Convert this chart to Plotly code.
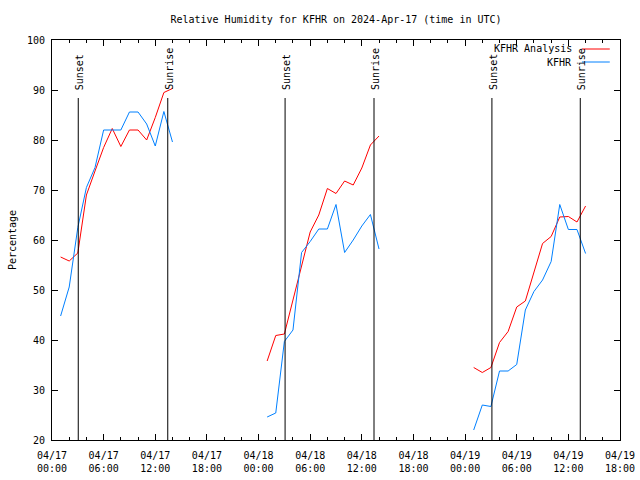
import pandas as pd
import plotly.graph_objects as go

# ---- data ----
seg_starts = ["2024-04-17 01:00", "2024-04-18 01:00", "2024-04-19 01:00"]
seg_len = 14

analysis_rh = [
    [56.6, 55.8, 57.4, 69.0, 73.8, 78.5, 82.3, 78.7, 82.0, 82.0, 80.0, 84.5, 89.5, 90.3],
    [35.8, 40.9, 41.2, 48.0, 54.5, 61.6, 65.0, 70.3, 69.3, 71.8, 71.0, 74.4, 79.0, 80.8],
    [34.5, 33.5, 34.5, 39.5, 41.7, 46.6, 47.8, 53.5, 59.3, 60.7, 64.6, 64.7, 63.6, 66.8],
]
obs_rh = [
    [44.8, 50.6, 62.5, 70.5, 74.5, 82.0, 82.0, 82.0, 85.6, 85.6, 83.2, 78.8, 85.7, 79.6],
    [24.6, 25.4, 39.7, 42.0, 57.5, 59.7, 62.2, 62.2, 67.1, 57.5, 60.0, 62.8, 65.1, 58.2],
    [22.0, 27.0, 26.7, 33.8, 33.8, 35.1, 46.0, 49.7, 52.0, 55.7, 67.1, 62.1, 62.1, 57.3],
]
sun_events = [
    ("2024-04-17 03:03", "Sunset"), ("2024-04-17 13:27", "Sunrise"),
    ("2024-04-18 03:05", "Sunset"), ("2024-04-18 13:25", "Sunrise"),
    ("2024-04-19 03:07", "Sunset"), ("2024-04-19 13:23", "Sunrise"),
]
tick_times = pd.date_range("2024-04-17 00:00", "2024-04-19 18:00", freq="6h")
tick_labels = [t.strftime("%m/%d<br>%H:%M") for t in tick_times]

# ---- build series with gaps ----
def build(series):
    xs, ys = [], []
    for start, vals in zip(seg_starts, series):
        times = pd.date_range(start, periods=seg_len, freq="1h")
        xs += list(times) + [None]
        ys += list(vals) + [None]
    return xs, ys

FONT = "DejaVu Sans Mono"
fig = go.Figure()
ax, ay = build(analysis_rh)
ox, oy = build(obs_rh)
fig.add_trace(go.Scatter(x=ax, y=ay, mode="lines", name="KFHR Analysis",
                         line=dict(color="#ff0000", width=1), connectgaps=False))
fig.add_trace(go.Scatter(x=ox, y=oy, mode="lines", name="KFHR",
                         line=dict(color="#0080ff", width=1), connectgaps=False))

for t, label in sun_events:
    fig.add_shape(type="line", xref="x", yref="y", x0=t, x1=t, y0=20, y1=88.4,
                  line=dict(color="black", width=1))
    fig.add_annotation(x=t, y=89.6, xref="x", yref="y", text=label, textangle=-90,
                       showarrow=False, xanchor="center", yanchor="bottom", xshift=1,
                       font=dict(family=FONT, size=10, color="black"))

# manual legend (gnuplot style)
legend_items = [("KFHR Analysis", "#ff0000", 0.9775), ("KFHR", "#0080ff", 0.945)]
for name, color, yy in legend_items:
    fig.add_annotation(x=0.919, y=yy, xref="paper", yref="paper", text=name,
                       showarrow=False, xanchor="right", yanchor="middle",
                       font=dict(family=FONT, size=10, color="black"))
    fig.add_shape(type="line", xref="paper", yref="paper", x0=0.933, x1=0.982,
                  y0=yy, y1=yy, line=dict(color=color, width=1))

fig.update_layout(
    width=640, height=480,
    margin=dict(l=52, r=20, t=40, b=40, autoexpand=False),
    paper_bgcolor="white", plot_bgcolor="white",
    showlegend=False,
    font=dict(family=FONT, size=10, color="black"),
    title=dict(text="Relative Humidity for KFHR on 2024-Apr-17 (time in UTC)",
               x=0.525, xanchor="center", xref="container",
               y=1 - 19 / 480, yanchor="middle", yref="container",
               font=dict(family=FONT, size=10, color="black")),
)
fig.update_xaxes(
    type="date", range=["2024-04-17 00:00", "2024-04-19 18:00"],
    tickmode="array", tickvals=list(tick_times), ticktext=tick_labels,
    ticks="inside", ticklen=6, tickcolor="black", ticklabelstandoff=6,
    minor=dict(ticks="inside", ticklen=3, dtick=2 * 3600 * 1000,
               tick0="2024-04-17 00:00", tickcolor="black", showgrid=False),
    showline=True, linecolor="black", linewidth=1, mirror="ticks",
    showgrid=False, zeroline=False, automargin=False,
    tickfont=dict(family=FONT, size=10, color="black"),
)
fig.update_yaxes(
    range=[20, 100], dtick=10, tick0=20,
    ticks="inside", ticklen=6, tickcolor="black", ticklabelstandoff=4,
    showline=True, linecolor="black", linewidth=1, mirror="ticks",
    showgrid=False, zeroline=False, automargin=False,
    title=dict(text="Percentage", font=dict(family=FONT, size=10, color="black"), standoff=8),
    tickfont=dict(family=FONT, size=10, color="black"),
)

fig.write_html("out.html", config={"displayModeBar": False},
               post_script="document.body.style.margin='0';document.body.style.padding='0';")
